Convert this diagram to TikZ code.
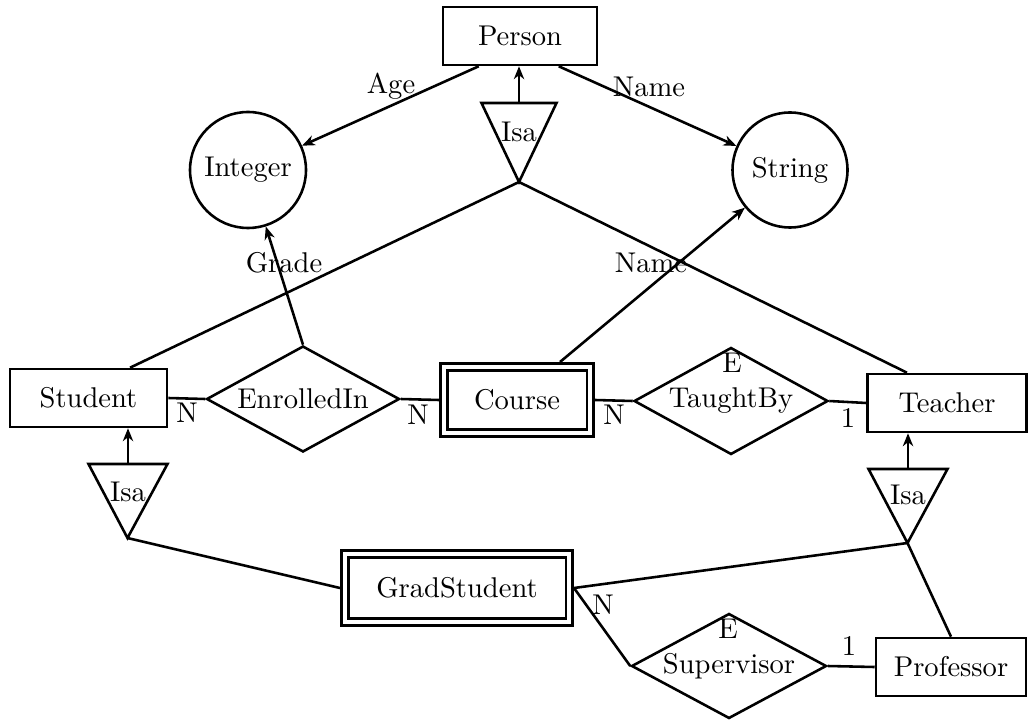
\documentclass[tikz,border=0pt]{standalone}
\usetikzlibrary{shapes.geometric,arrows.meta,calc}
\begin{document}
\begin{tikzpicture}[x=0.35pt,y=-0.35pt,
  line width=0.9pt,
  >={Stealth[length=4.5pt,width=3.6pt,inset=1.4pt]},
  wh/.style 2 args={minimum width=#1*0.35pt,minimum height=#2*0.35pt},
  ent/.style={draw,rectangle,inner sep=0pt},
  weak/.style={draw,rectangle,double,double distance=1.53pt,outer sep=1.665pt,inner sep=0pt},
  rel/.style={draw,diamond,inner sep=0pt,shape aspect=1.8},
  attr/.style={draw,circle,inner sep=0pt},
  lbl/.style={inner sep=0pt},
  isatri/.style={line join=miter},
]
\useasboundingbox (0,0) rectangle (1028,721);

% entities and attributes
\node[ent,wh={154}{58}] (Person) at (520,36) {Person};
\node[attr,minimum size=116*0.35pt] (Integer) at (248,170) {Integer};
\node[attr,minimum size=115*0.35pt] (String) at (790,170) {String};
\node[ent,wh={157}{58}] (Student) at (88.5,398) {Student};
\node[rel,wh={193}{106}] (Enrolled) at (303,399) {EnrolledIn};
\node[weak,wh={146.5}{66.5}] (Course) at (517,400) {Course};
\node[rel,wh={194}{107}] (Taught) at (731,401) {TaughtBy};
\node[ent,wh={159}{58}] (Teacher) at (947,403) {Teacher};
\node[weak,wh={224.5}{68.5}] (Grad) at (457,588) {GradStudent};
\node[rel,wh={195}{105}] (Super) at (729,666) {Supervisor};
\node[ent,wh={150}{58}] (Prof) at (951,667) {Professor};

% Isa triangles
\coordinate (IsaPtop) at (519,103);
\coordinate (IsaPapex) at (519,182);
\draw[isatri] (IsaPapex) -- ($(IsaPtop)+(-37.5,0)$) -- ($(IsaPtop)+(37.5,0)$) -- cycle;
\node[lbl] (IsaP) at (519,132) {Isa};

\coordinate (IsaStop) at (128,464);
\coordinate (IsaSapex) at (127.5,538);
\draw[isatri] (IsaSapex) -- ($(IsaStop)+(-39.5,0)$) -- ($(IsaStop)+(39.5,0)$) -- cycle;
\node[lbl] (IsaS) at (128,492) {Isa};

\coordinate (IsaTtop) at (908,469);
\coordinate (IsaTapex) at (907.5,543);
\draw[isatri] (IsaTapex) -- ($(IsaTtop)+(-39.5,0)$) -- ($(IsaTtop)+(39.5,0)$) -- cycle;
\node[lbl] (IsaT) at (908,495) {Isa};

% connectors
\draw[->] ($(Person.south west)+(37,0)$) -- (Integer);
\draw[->] ($(Person.south west)+(117,0)$) -- (String);
\draw[->] (IsaPtop) -- (IsaPtop |- Person.south);
\draw (IsaPapex) -- ($(Student.north)+(41.5,0)$);
\draw (IsaPapex) -- ($(Teacher.north)+(-40,0)$);
\draw (Student.east) -- (Enrolled.west);
\draw (Enrolled.east) -- (Course.west);
\draw (Course.east) -- (Taught.west);
\draw (Taught.east) -- (Teacher.west);
\draw[->] (Enrolled.north) -- (Integer);
\draw[->] ($(Course.north)+(43,0)$) -- (String);
\draw[->] (IsaStop) -- (IsaStop |- Student.south);
\draw (IsaSapex) -- (Grad.west);
\draw[->] (IsaTtop) -- (IsaTtop |- Teacher.south);
\draw (IsaTapex) -- (Grad.east);
\draw (IsaTapex) -- (Prof.north);
\draw (Grad.east) -- (Super.west);
\draw (Super.east) -- (Prof.west);

% labels
\node[lbl] (lAge) at (391,86) {Age};
\node[lbl] (lName1) at (649,87) {Name};
\node[lbl] (lGrade) at (284,263) {Grade};
\node[lbl] (lName2) at (651,263) {Name};
\node[lbl] (lN1) at (187,413) {N};
\node[lbl] (lN2) at (418,415) {N};
\node[lbl] (lN3) at (614,415) {N};
\node[lbl] (l1a) at (848,418) {1};
\node[lbl] (lE1) at (732,363) {E};
\node[lbl] (lN4) at (603,605) {N};
\node[lbl] (lE2) at (728,629) {E};
\node[lbl] (l1b) at (849,646) {1};
\end{tikzpicture}
\end{document}
